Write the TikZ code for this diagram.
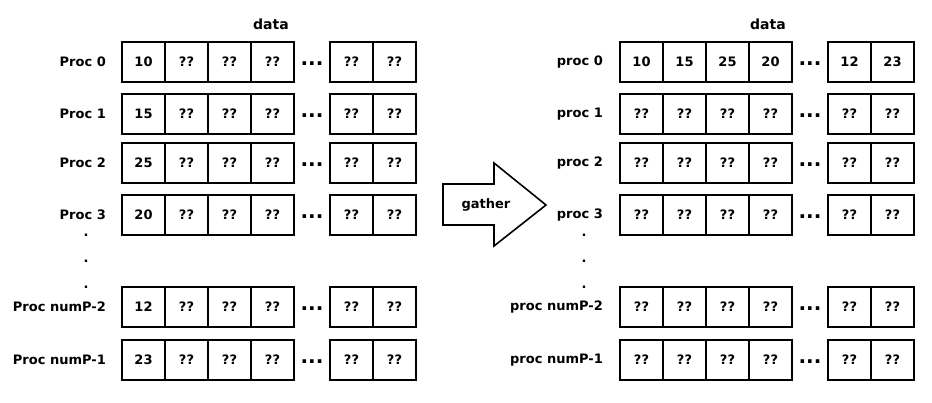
\documentclass[tikz,border=0pt]{standalone}
\usepackage{fontspec}
\setmainfont{DejaVu Sans}
\begin{document}
\begin{tikzpicture}[x=1pt, y=-1pt,
    cell/.style={draw=black, line width=1.4pt, minimum width=43pt, minimum height=40pt, inner sep=0pt, font=\bfseries\fontsize{13}{15}\selectfont},
    proclabel/.style={anchor=east, inner sep=0pt, font=\bfseries\fontsize{13}{15}\selectfont},
    gap/.style={inner sep=0pt, font=\bfseries\fontsize{13}{15}\selectfont},
    ellip/.style={inner sep=0pt, font=\bfseries\fontsize{20}{22}\selectfont},
  ]
\useasboundingbox (0,0) rectangle (932,402);

%before the gather
\node[gap, font=\bfseries\fontsize{14}{16}\selectfont] (datab) at (271,24) {data};
\foreach \y/\lbl/\val [count=\r] in {62/Proc 0/10, 114/Proc 1/15, 163/Proc 2/25, 215/Proc 3/20, 307/Proc numP-2/12, 360/Proc numP-1/23}
{
	\node[proclabel] (bl\r) at (106,\y) {\lbl};
	\node[cell] (b\r-1) at (143.5,\y) {\val};
	\foreach \x [count=\c from 2] in {186.5, 229.5, 272.5, 351.5, 394.5}
		\node[cell] (b\r-\c) at (\x,\y) {??};
	\node[ellip] (b\r-dots) at (312,\y+1.5) {...};
}
\foreach \y [count=\i] in {235, 261, 287}
	\node[gap] (bv\i) at (86,\y) {.};

%gather arrow
\draw[line width=1.6pt, line join=miter, fill=white] (443,184) -- (494,184) -- (494,163) -- (546,205) -- (494,246) -- (494,225) -- (443,225) -- cycle;
\node[gap] (gather) at (486,205) {gather};

%after the gather
\node[gap, font=\bfseries\fontsize{14}{16}\selectfont] (dataa) at (768,24) {data};
\node[proclabel] (al1) at (603,62) {proc 0};
\foreach \x/\val [count=\c] in {641.5/10, 684.5/15, 727.5/25, 770.5/20, 849.5/12, 892.5/23}
	\node[cell] (a1-\c) at (\x,62) {\val};
\node[ellip] (a1-dots) at (810,63.5) {...};
\foreach \y/\lbl [count=\r from 2] in {114/proc 1, 163/proc 2, 215/proc 3, 307/proc numP-2, 360/proc numP-1}
{
	\node[proclabel] (al\r) at (603,\y) {\lbl};
	\foreach \x [count=\c] in {641.5, 684.5, 727.5, 770.5, 849.5, 892.5}
		\node[cell] (a\r-\c) at (\x,\y) {??};
	\node[ellip] (a\r-dots) at (810,\y+1.5) {...};
}
\foreach \y [count=\i] in {235, 261, 287}
	\node[gap] (av\i) at (584,\y) {.};

\end{tikzpicture}
\end{document}
